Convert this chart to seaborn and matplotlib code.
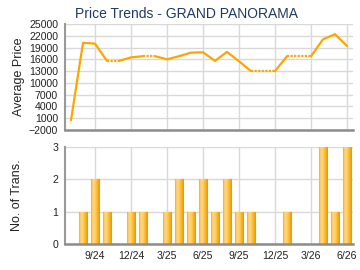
import numpy as np
import pandas as pd
import seaborn as sns
import matplotlib
matplotlib.use('Agg')
import matplotlib.pyplot as plt

# monthly data, 7/24 .. 6/26 (NaN = no transactions that month)
months = ['7/24', '8/24', '9/24', '10/24', '11/24', '12/24',
          '1/25', '2/25', '3/25', '4/25', '5/25', '6/25',
          '7/25', '8/25', '9/25', '10/25', '11/25', '12/25',
          '1/26', '2/26', '3/26', '4/26', '5/26', '6/26']
avg_price = [500, 20200, 20000, 15600, np.nan, 16500,
             16800, np.nan, 16000, 16800, 17700, 17800,
             15600, 17900, 15500, 13000, np.nan, np.nan,
             16800, np.nan, np.nan, 21100, 22400, 19400]
transactions = [0, 1, 2, 1, 0, 1,
                1, 0, 1, 2, 1, 2,
                1, 2, 1, 1, 0, 0,
                1, 0, 0, 3, 1, 3]
tick_months = ['9/24', '12/24', '3/25', '6/25', '9/25', '12/25', '3/26', '6/26']

sns.set_style('white')
plt.rcParams['font.family'] = ['Liberation Sans', 'DejaVu Sans']

LINE = '#FFA500'
GRID = '#d9d9d9'
TEXT = '#222222'

fig = plt.figure(figsize=(3.6, 2.7), dpi=100)
ax1 = fig.add_axes([65 / 360, 1 - 130 / 270, 288 / 360, 106 / 270])
ax2 = fig.add_axes([65 / 360, 1 - 244 / 270, 288 / 360, 97 / 270])

# price line: missing months carry the previous value and are drawn dotted
price = pd.Series(avg_price)
filled = price.ffill()
rows = []
run, prev_kind = 0, None
for i in range(len(months) - 1):
    kind = 'solid' if not np.isnan(avg_price[i + 1]) else 'dotted'
    if kind != prev_kind:
        run += 1
        prev_kind = kind
    rows.append({'x': i, 'y': filled[i], 'run': run, 'kind': kind})
    rows.append({'x': i + 1, 'y': filled[i + 1], 'run': run, 'kind': kind})
seg = pd.DataFrame(rows)

sns.lineplot(data=seg, x='x', y='y', units='run', estimator=None, style='kind',
             dashes={'solid': '', 'dotted': (1, 0.6)}, color=LINE, linewidth=1.6,
             legend=False, ax=ax1, solid_capstyle='round', solid_joinstyle='round')

# transactions bars
bars = pd.DataFrame({'month': months, 'count': transactions})
sns.barplot(data=bars, x='month', y='count', order=months, width=0.7,
            color='#FFC850', edgecolor='#F0A000', linewidth=0.8, ax=ax2)

grad = np.linspace(0, 1, 64).reshape(1, -1)
cmap = matplotlib.colors.LinearSegmentedColormap.from_list(
    'bar', ['#F5B030', '#FFD98A', '#FFCB5C', '#F7B224', '#E89800'])
for p in ax2.patches:
    if p.get_height() <= 0:
        continue
    x0, w, h = p.get_x(), p.get_width(), p.get_height()
    im = ax2.imshow(grad, cmap=cmap, aspect='auto', extent=[x0, x0 + w, 0, h], zorder=2.5)
    im.set_clip_path(p)

tick_pos = [months.index(m) for m in tick_months]
for ax in (ax1, ax2):
    ax.set_xlim(-0.5, len(months) - 0.5)
    ax.set_xticks(tick_pos)
    ax.grid(True, color=GRID, linewidth=1)
    ax.set_axisbelow(True)
    for s in ('top', 'right'):
        ax.spines[s].set_visible(False)
    ax.spines['left'].set_color('#999999')
    ax.spines['left'].set_linewidth(1.5)
    ax.spines['bottom'].set_color('#8c8c8c')
    ax.spines['bottom'].set_linewidth(1.8)
    ax.tick_params(axis='both', colors='#999999', length=3, width=0.8, labelcolor=TEXT,
                   labelsize=7.6, pad=2)

ax1.set_ylim(-2000, 25000)
ax1.set_yticks(range(-2000, 25001, 3000))
ax1.set_xticklabels([])
ax1.tick_params(axis='x', length=0)
ax1.set_xlabel('')
ax1.set_ylabel('Average Price', fontsize=9, color=TEXT, labelpad=3)
ax1.set_title('Price Trends - GRAND PANORAMA', fontsize=10, color='#1F3A60',
              loc='left', x=0.035, pad=4)

ax2.set_ylim(0, 3)
ax2.set_yticks([0, 1, 2, 3])
ax2.set_xticklabels(tick_months)
ax2.set_xlabel('')
ax2.set_ylabel('No. of Trans.', fontsize=9, color=TEXT, labelpad=21)

fig.savefig('out.png', dpi=100)
